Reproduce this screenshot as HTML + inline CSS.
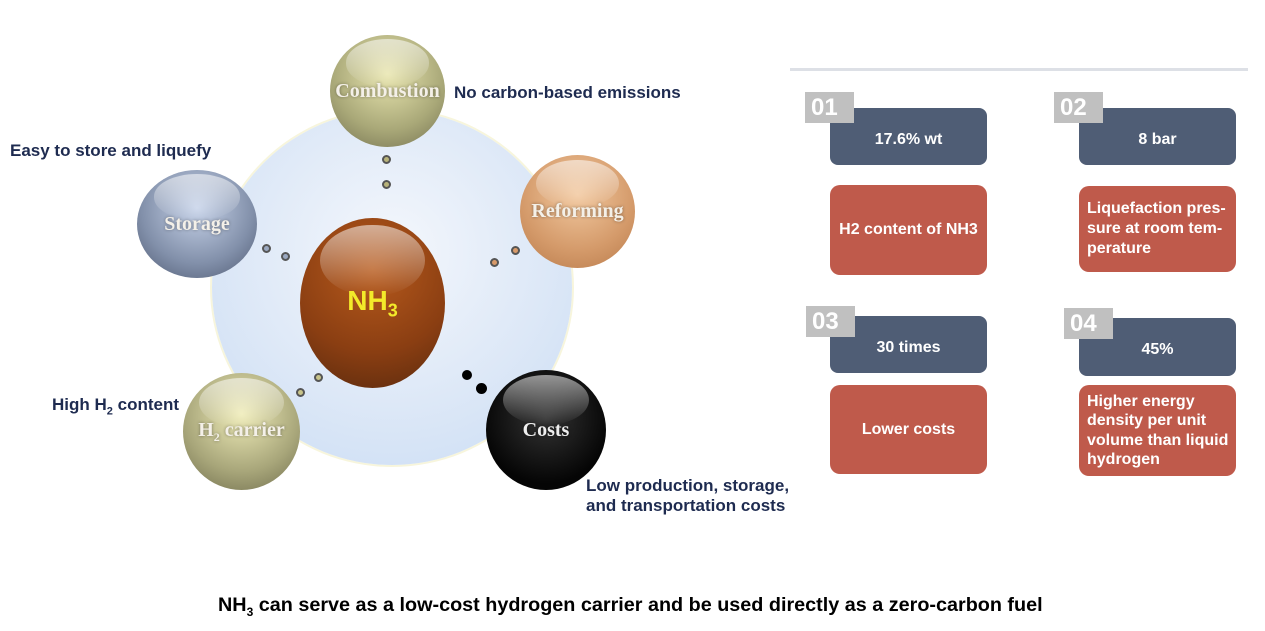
<!DOCTYPE html>
<html><head><meta charset="utf-8"><style>
body{margin:0;width:1265px;height:631px;background:#fff;position:relative;overflow:hidden;font-family:"Liberation Sans",sans-serif}
.a{position:absolute}
.sp{position:absolute;border-radius:50%;display:flex;align-items:center;justify-content:center;font-family:"Liberation Serif",serif;font-weight:bold;color:#f4f0e8;font-size:20px;text-shadow:0 0 3px rgba(0,0,0,.4)}
.sp::before{content:"";position:absolute;left:14%;right:14%;top:4%;height:42%;border-radius:50%;background:linear-gradient(rgba(255,255,255,.55),rgba(255,255,255,0))}
.sp span{position:relative}
.dot{position:absolute;width:9px;height:9px;border-radius:50%;border:2px solid #555;box-sizing:border-box}
.lb{position:absolute;font-weight:bold;color:#1e2b50;font-size:17px;white-space:nowrap}
.bl{position:absolute;background:#4f5d75;border-radius:8px;color:#fff;font-weight:bold;font-size:16px;display:flex;align-items:center;justify-content:center}
.rd{position:absolute;background:#bf5a4b;border-radius:10px;color:#fff;font-weight:bold;font-size:16px;display:flex;align-items:center;justify-content:center;line-height:20px}
.rd.l{justify-content:flex-start;padding-left:8px;box-sizing:border-box}
.n{position:absolute;background:#c0c0c0;color:#fff;font-weight:bold;font-size:24px;width:49px;height:31px;line-height:31px;padding-left:6px;box-sizing:border-box}
</style></head><body>
<div class="a" style="left:212px;top:110px;width:360px;height:355px;border-radius:50%;background:radial-gradient(circle at 50% 40%,#f4f7fc 0%,#dde8f7 55%,#c9dcf4 100%);box-shadow:0 0 0 2px #f7f5dc"></div>
<div class="dot" style="left:382px;top:155px;background:#b8b37a"></div>
<div class="dot" style="left:382px;top:180px;background:#b8b37a"></div>
<div class="dot" style="left:262px;top:244px;background:#9aa8c0"></div>
<div class="dot" style="left:281px;top:252px;background:#9aa8c0"></div>
<div class="dot" style="left:490px;top:258px;background:#d89a6a"></div>
<div class="dot" style="left:511px;top:246px;background:#d89a6a"></div>
<div class="dot" style="left:296px;top:388px;background:#c8c48a"></div>
<div class="dot" style="left:314px;top:373px;background:#c8c48a"></div>
<div class="dot" style="left:462px;top:370px;background:#000;border-color:#000;width:10px;height:10px"></div>
<div class="dot" style="left:476px;top:383px;background:#000;border-color:#000;width:11px;height:11px"></div>
<div class="sp" style="left:300px;top:218px;width:145px;height:170px;background:radial-gradient(circle at 50% 30%,#b75a1c,#8a3e12 60%,#5a2a0e);font-family:'Liberation Sans',sans-serif;color:#f3ea2a;font-size:28px;text-shadow:none"><span>NH<sub style="font-size:18px">3</sub></span></div>
<div class="sp" style="left:330px;top:35px;width:115px;height:112px;background:radial-gradient(circle at 50% 35%,#e9e6b0,#a9a878 60%,#727050)"><span>Combustion</span></div>
<div class="sp" style="left:137px;top:170px;width:120px;height:108px;background:radial-gradient(circle at 50% 35%,#c8d4ea,#8290aa 60%,#4d5870)"><span>Storage</span></div>
<div class="sp" style="left:520px;top:155px;width:115px;height:113px;background:radial-gradient(circle at 50% 35%,#f2c9a0,#d49a6a 60%,#b87a4a)"><span>Reforming</span></div>
<div class="sp" style="left:183px;top:373px;width:117px;height:117px;background:radial-gradient(circle at 50% 35%,#efecb8,#a8a67a 60%,#6e6c4c)"><span>H<sub style="font-size:12px">2</sub> carrier</span></div>
<div class="sp" style="left:486px;top:370px;width:120px;height:120px;background:radial-gradient(circle at 50% 40%,#333,#050505 70%);color:#eee"><span>Costs</span></div>
<div class="lb" style="left:454px;top:83px">No carbon-based emissions</div>
<div class="lb" style="left:10px;top:141px">Easy to store and liquefy</div>
<div class="lb" style="left:52px;top:395px">High H<sub style="font-size:11px">2</sub> content</div>
<div class="lb" style="left:586px;top:476px;line-height:20px">Low production, storage,<br>and transportation costs</div>
<div class="a" style="left:790px;top:68px;width:458px;height:3px;background:#dde0e6"></div>
<div class="bl" style="left:830px;top:108px;width:157px;height:57px;padding-top:6px;box-sizing:border-box">17.6% wt</div>
<div class="n" style="left:805px;top:92px">01</div>
<div class="rd" style="left:830px;top:185px;width:157px;height:90px">H2 content of NH3</div>
<div class="bl" style="left:1079px;top:108px;width:157px;height:57px;padding-top:6px;box-sizing:border-box">8 bar</div>
<div class="n" style="left:1054px;top:92px">02</div>
<div class="rd l" style="left:1079px;top:186px;width:157px;height:86px">Liquefaction pres-<br>sure at room tem-<br>perature</div>
<div class="bl" style="left:830px;top:316px;width:157px;height:57px;padding-top:6px;box-sizing:border-box">30 times</div>
<div class="n" style="left:806px;top:306px">03</div>
<div class="rd" style="left:830px;top:385px;width:157px;height:89px">Lower costs</div>
<div class="bl" style="left:1079px;top:318px;width:157px;height:58px;padding-top:6px;box-sizing:border-box">45%</div>
<div class="n" style="left:1064px;top:308px">04</div>
<div class="rd l" style="left:1079px;top:385px;width:157px;height:91px;line-height:19.5px">Higher energy<br>density per unit<br>volume than liquid<br>hydrogen</div>
<div class="a" style="left:218px;top:594px;width:860px;font-weight:bold;font-size:19.8px;color:#000;white-space:nowrap">NH<sub style="font-size:12px">3</sub> can serve as a low-cost hydrogen carrier and be used directly as a zero-carbon fuel</div>
</body></html>
